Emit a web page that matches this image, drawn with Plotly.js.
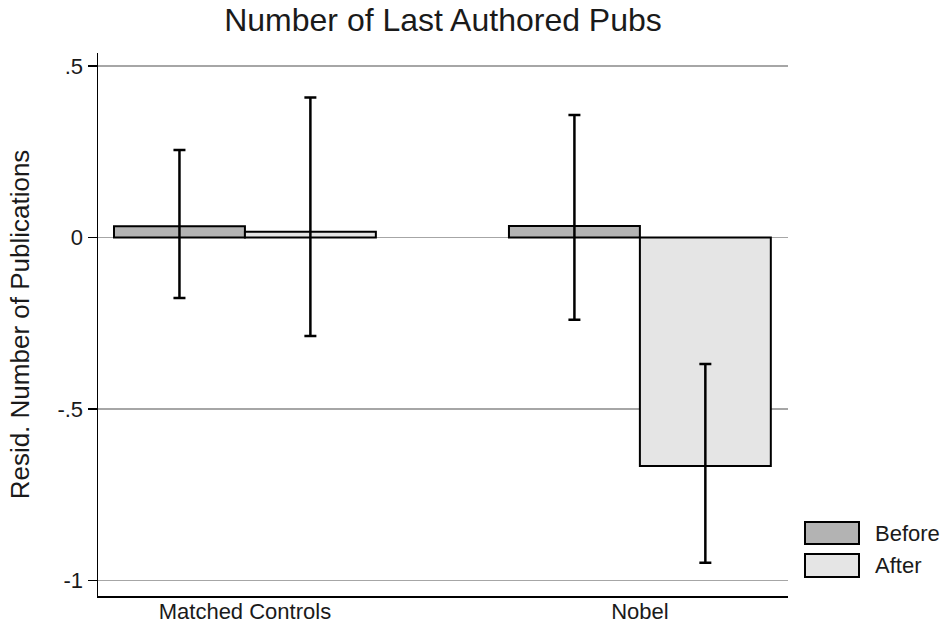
<!DOCTYPE html>
<html>
<head>
<meta charset="utf-8">
<script src="https://cdn.plot.ly/plotly-3.0.1.min.js"></script>
<style>
  html, body { margin: 0; padding: 0; background: #fff; }
  #chart { width: 950px; height: 625px; }
</style>
</head>
<body>
<div id="chart"></div>
<script>
// Groups on the x axis
const groups = ["Matched Controls", "Nobel"];
const tickVals = [0.5, 0, -0.5, -1];
const tickText = [".5", "0", "-.5", "-1"];

// Residual number of last-authored publications, with 95% CI bounds
const beforeMean = [0.033, 0.034];
const beforeLow  = [-0.176, -0.240];
const beforeHigh = [0.255, 0.357];

const afterMean = [0.017, -0.666];
const afterLow  = [-0.287, -0.948];
const afterHigh = [0.408, -0.369];

const seriesNames = ["Before", "After"];
const seriesFill = ["#b3b3b3", "#e5e5e5"];

const FONT = "Liberation Sans, Arial, Helvetica, sans-serif";
const INK = "#1a1a1a";

function errBar(mean, low, high) {
  return {
    type: "data", symmetric: false,
    array: high.map((h, i) => h - mean[i]),
    arrayminus: mean.map((m, i) => m - low[i]),
    color: "#000", thickness: 2.5, width: 6
  };
}

const traces = [
  { type: "bar", name: seriesNames[0], x: groups, y: beforeMean,
    marker: { color: seriesFill[0], line: { color: "#000", width: 2 } },
    error_y: errBar(beforeMean, beforeLow, beforeHigh), showlegend: false, hoverinfo: "skip" },
  { type: "bar", name: seriesNames[1], x: groups, y: afterMean,
    marker: { color: seriesFill[1], line: { color: "#000", width: 2 } },
    error_y: errBar(afterMean, afterLow, afterHigh), showlegend: false, hoverinfo: "skip" }
];

// plot area in pixels
const M = { l: 98, r: 162, t: 53, b: 29 };
const W = 950, H = 625;
const pw = W - M.l - M.r, ph = H - M.t - M.b;
const px = x => (x - M.l) / pw;
const py = y => (H - M.b - y) / ph;

// legend key boxes and labels
const keyRows = [[522, 544], [554, 577]];
const shapes = keyRows.map((r, i) => ({
  type: "rect", xref: "paper", yref: "paper",
  x0: px(805), x1: px(859), y0: py(r[1]), y1: py(r[0]),
  fillcolor: seriesFill[i], line: { color: "#000", width: 2 }
}));
const annotations = keyRows.map((r, i) => ({
  xref: "paper", yref: "paper", x: px(873), y: py((r[0] + r[1]) / 2),
  xanchor: "left", yanchor: "middle", showarrow: false,
  text: seriesNames[i], font: { family: FONT, size: 22, color: INK }
}));

const layout = {
  width: W, height: H,
  margin: M,
  paper_bgcolor: "#fff", plot_bgcolor: "#fff",
  barmode: "group", bargap: 0.337, bargroupgap: 0,
  showlegend: false,
  title: {
    text: "Number of Last Authored Pubs",
    font: { family: FONT, size: 32, color: INK },
    x: px(443), xref: "paper", xanchor: "center",
    y: 1 - 9 / H, yref: "container", yanchor: "top"
  },
  xaxis: {
    type: "category", range: [-0.372, 1.375],
    showline: true, linecolor: "#000", linewidth: 1.5,
    ticks: "", showgrid: false, zeroline: false,
    ticklabelstandoff: -5,
    tickfont: { family: FONT, size: 22, color: INK }
  },
  yaxis: {
    range: [-1.045, 0.538],
    tickvals: tickVals, ticktext: tickText,
    showline: true, linecolor: "#000", linewidth: 1.5,
    ticks: "outside", ticklen: 9, tickwidth: 1.5, tickcolor: "#000",
    showgrid: true, gridcolor: "#a6a6a6", gridwidth: 1.5, zeroline: false,
    tickfont: { family: FONT, size: 22, color: INK },
    title: { text: "Resid. Number of Publications", font: { family: FONT, size: 26, color: INK }, standoff: 20 }
  },
  shapes: shapes,
  annotations: annotations
};

Plotly.newPlot("chart", traces, layout, { staticPlot: true, displayModeBar: false });
</script>
</body>
</html>
